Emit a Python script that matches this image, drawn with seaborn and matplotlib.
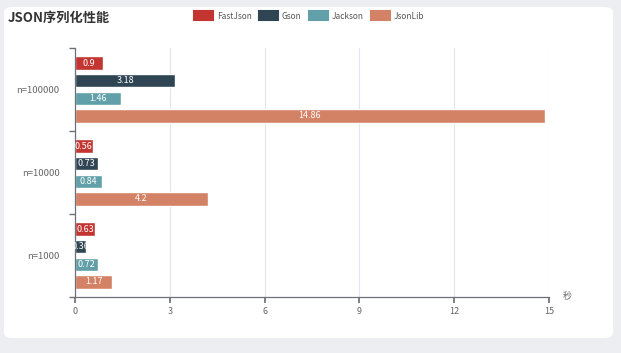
import matplotlib
matplotlib.use("Agg")
import matplotlib.pyplot as plt
import seaborn as sns
import pandas as pd
from matplotlib.patches import FancyBboxPatch, Patch
from matplotlib.ticker import FixedLocator

categories = ["n=100000", "n=10000", "n=1000"]
libraries = ["FastJson", "Gson", "Jackson", "JsonLib"]
fastjson = [0.9, 0.56, 0.63]
gson = [3.18, 0.73, 0.36]
jackson = [1.46, 0.84, 0.72]
jsonlib = [14.86, 4.2, 1.17]
xticks = [0, 3, 6, 9, 12, 15]
colors = ["#c23531", "#2f4554", "#61a0a8", "#d48265"]

rows = []
for lib, vals in zip(libraries, [fastjson, gson, jackson, jsonlib]):
    for c, v in zip(categories, vals):
        rows.append({"cat": c, "lib": lib, "val": v})
df = pd.DataFrame(rows)

sns.set_theme(style="white")
plt.rcParams["font.family"] = ["Noto Sans CJK SC", "DejaVu Sans"]

axis_col = "#6e7079"
text_col = "#666666"

fig = plt.figure(figsize=(6.21, 3.53), dpi=100)
fig.patch.set_facecolor("#eceef1")
card = FancyBboxPatch((4/621, 15/353), 609/621, 331/353, boxstyle="round,pad=0,rounding_size=0.015",
                      transform=fig.transFigure, facecolor="white", edgecolor="none", zorder=-10)
fig.patches.append(card)

ax = fig.add_axes([75/621, 56/353, 474/621, 249/353])
ax.set_facecolor("none")
ax.set_zorder(1)
sns.barplot(data=df, y="cat", x="val", hue="lib", order=categories, hue_order=libraries,
            palette=colors, orient="h", width=0.85, gap=0.24, ax=ax, legend=False,
            saturation=1)

for cont in ax.containers:
    labels = [f"{v:g}" for v in cont.datavalues]
    ax.bar_label(cont, labels=labels, label_type="center", color="white", fontsize=6.5)

ax.set_xlim(0, 15)
ax.set_ylim(2.5, -0.5)
ax.set_xticks(xticks)
ax.set_xticklabels([str(t) for t in xticks])
ax.set_xlabel("")
ax.set_ylabel("")
ax.grid(axis="x", color="#e0e6f1", linewidth=0.8)
ax.set_axisbelow(True)
for s in ["top", "right"]:
    ax.spines[s].set_visible(False)
for s in ["left", "bottom"]:
    ax.spines[s].set_color(axis_col)
    ax.spines[s].set_linewidth(0.9)
ax.tick_params(axis="x", length=4, color=axis_col, labelsize=6.5, labelcolor=text_col, pad=3, direction="out", bottom=True)
ax.tick_params(axis="y", which="major", length=0, labelsize=6.8, labelcolor=text_col, pad=11)
ax.yaxis.set_minor_locator(FixedLocator([-0.5, 0.5, 1.5, 2.5]))
ax.tick_params(axis="y", which="minor", length=4, color=axis_col, direction="out", left=True)

ax.text(1.03, 0.0, "秒", transform=ax.transAxes, fontsize=6.5, color=text_col, va="center", ha="left")

fig.text(8/621, 1 - 18/353, "JSON序列化性能", fontsize=9.5, fontweight="bold", color="#333333", va="center", ha="left")

handles = [Patch(facecolor=c, edgecolor=c, linewidth=1.5, joinstyle="round", label=l) for c, l in zip(colors, libraries)]
leg = fig.legend(handles=handles, loc="center", bbox_to_anchor=(309/621, 1 - 16/353), ncol=4, frameon=False,
                 fontsize=6, handlelength=2.3, handleheight=1.3, columnspacing=0.9, handletextpad=0.4)
for t in leg.get_texts():
    t.set_color("#555555")

fig.savefig("out.png", dpi=100, facecolor=fig.get_facecolor())
